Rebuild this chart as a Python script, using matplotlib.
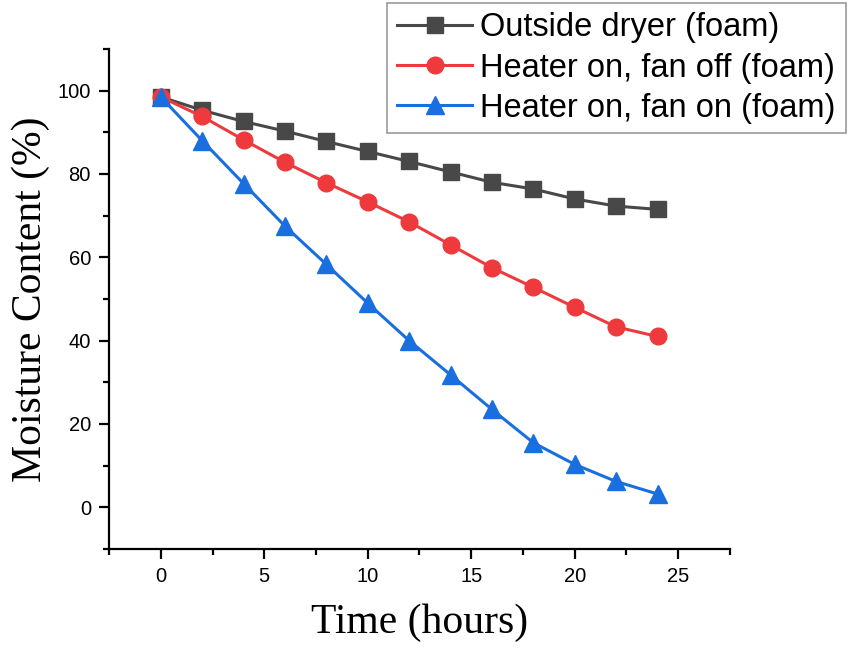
import matplotlib.pyplot as plt
from matplotlib.ticker import MultipleLocator

# drying time (hours)
hours = [0, 2, 4, 6, 8, 10, 12, 14, 16, 18, 20, 22, 24]

# moisture content (%) of the foam samples
outside_dryer = [98.5, 95.3, 92.6, 90.3, 87.8, 85.4, 83.0, 80.5, 78.0, 76.4, 74.0, 72.3, 71.5]
heater_fan_off = [98.5, 93.8, 88.2, 82.8, 77.9, 73.3, 68.5, 63.0, 57.5, 52.8, 48.0, 43.3, 41.0]
heater_fan_on = [98.5, 88.0, 77.7, 67.5, 58.3, 49.0, 40.0, 31.8, 23.5, 15.5, 10.3, 6.2, 3.2]

labels = ['Outside dryer (foam)', 'Heater on, fan off (foam)', 'Heater on, fan on (foam)']

fig = plt.figure(figsize=(8.49, 6.48), dpi=100)
ax = fig.add_axes([0.1284, 0.1528, 0.7314, 0.7716])

ax.plot(hours, outside_dryer, color='#484848', lw=2.2, marker='s', ms=11, label=labels[0])
ax.plot(hours, heater_fan_off, color='#ee3a3c', lw=2.2, marker='o', ms=12, label=labels[1])
ax.plot(hours, heater_fan_on, color='#1a6fe0', lw=2.2, marker='^', ms=12.5, label=labels[2])

ax.set_xlim(-2.5, 27.5)
ax.set_ylim(-10, 110)
ax.xaxis.set_major_locator(MultipleLocator(5))
ax.xaxis.set_minor_locator(MultipleLocator(2.5))
ax.yaxis.set_major_locator(MultipleLocator(20))
ax.yaxis.set_minor_locator(MultipleLocator(10))

for side in ['top', 'right']:
    ax.spines[side].set_visible(False)
for side in ['left', 'bottom']:
    ax.spines[side].set_linewidth(1.6)

ax.tick_params(which='major', direction='out', length=7, width=1.6, labelsize=14.5, pad=6)
ax.tick_params(which='minor', direction='out', length=4, width=1.6)
for lbl in ax.get_xticklabels() + ax.get_yticklabels():
    lbl.set_fontfamily('Liberation Sans')

ax.set_xlabel('Time (hours)', fontfamily='Liberation Serif', fontsize=30)
ax.set_ylabel('Moisture Content (%)', fontfamily='Liberation Serif', fontsize=30)
ax.xaxis.set_label_coords(0.5, -0.108)
ax.yaxis.set_label_coords(-0.095, 0.5)

leg = fig.legend(loc='upper right', bbox_to_anchor=(0.996, 0.996),
                 prop={'family': 'Liberation Sans', 'size': 23.5},
                 frameon=True, fancybox=False, borderpad=0.3, labelspacing=0.28,
                 handlelength=2.3, handletextpad=0.25, borderaxespad=0)
leg.get_frame().set_edgecolor('#808080')
leg.get_frame().set_linewidth(1.2)

fig.savefig('out.png', dpi=100)
